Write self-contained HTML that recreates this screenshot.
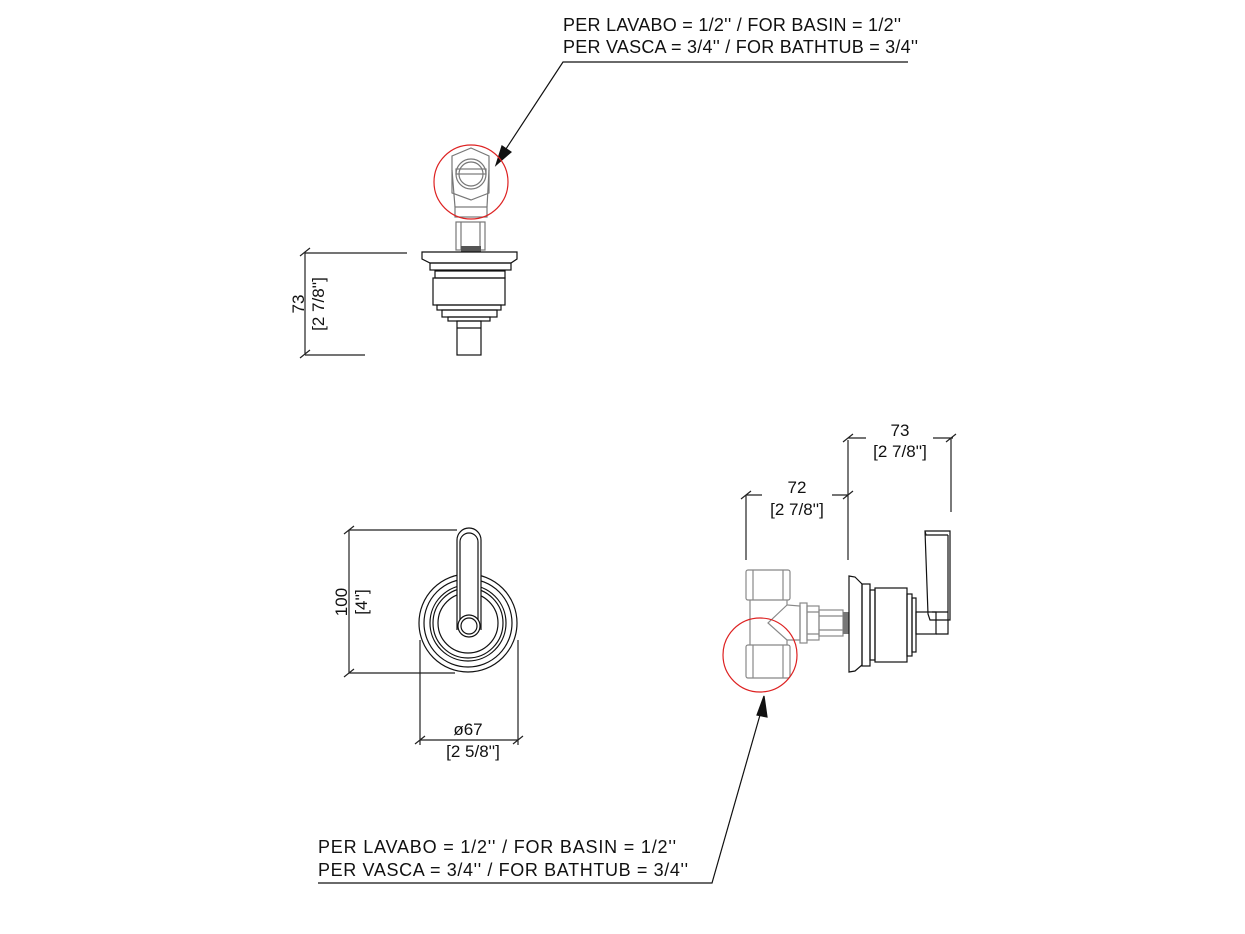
<!DOCTYPE html>
<html><head><meta charset="utf-8"><style>html,body{margin:0;padding:0;background:#fff}svg{display:block}text{font-family:"Liberation Sans",sans-serif;fill:#111}</style></head>
<body>
<svg width="1245" height="934" viewBox="0 0 1245 934" xmlns="http://www.w3.org/2000/svg" fill="none" stroke="#111" stroke-width="1.2">
<!-- top callout -->
<text x="563" y="31" font-size="18" stroke="none" textLength="338">PER LAVABO = 1/2'' / FOR BASIN = 1/2''</text>
<text x="563" y="53" font-size="18" stroke="none" textLength="355">PER VASCA = 3/4'' / FOR BATHTUB = 3/4''</text>
<polyline points="908,62 563,62 500,158"/>
<polygon points="496,165 502,146 511,152" fill="#111"/>

<!-- top view -->
<g stroke="#777">
<polygon points="471,148 489,156 489,193 471,200 452,193 452,156"/>
<path d="M452,170 L455,207 M489,170 L487,207"/>
<circle cx="471" cy="174" r="15"/><circle cx="471" cy="174" r="12"/>
<rect x="456" y="169" width="30" height="5"/>
<rect x="455" y="207" width="32" height="10"/>
<rect x="456" y="222" width="29" height="28"/>
<path d="M461,222 V250 M480,222 V250"/>
</g>
<rect x="461" y="246" width="20" height="6" fill="#555" stroke="none"/>
<circle cx="471" cy="182" r="37" stroke="#d22"/>
<path d="M422,252 H517 V259 L511,263 H430 L422,259 Z"/>
<rect x="430" y="263" width="81" height="7"/>
<rect x="435" y="271" width="70" height="7"/>
<rect x="433" y="278" width="72" height="27"/>
<rect x="437" y="305" width="64" height="5"/>
<rect x="442" y="310" width="55" height="7"/>
<rect x="448" y="317" width="42" height="4"/>
<rect x="457" y="321" width="24" height="34"/>
<path d="M457,328 H481"/>
<!-- 73 dim -->
<path d="M305,253 V355 M305,253 H407 M305,355 H365 M300,358 L310,350 M300,256 L310,248" stroke="#222"/>
<text font-size="17" stroke="none" transform="translate(304,304) rotate(-90)" text-anchor="middle">73</text>
<text font-size="17" stroke="none" transform="translate(324,304) rotate(-90)" text-anchor="middle">[2 7/8'']</text>

<!-- front view -->
<circle cx="468" cy="623" r="49"/>
<circle cx="468" cy="623" r="44"/>
<circle cx="468" cy="623" r="38"/>
<circle cx="468" cy="623" r="35"/>
<circle cx="468" cy="623" r="30"/>
<path d="M457,630 V540 A12,12 0 0 1 481,540 V630" fill="#fff"/>
<path d="M460,628 V542 A9,9 0 0 1 478,542 V628" />
<circle cx="469" cy="626" r="11" fill="#fff"/>
<circle cx="469" cy="626" r="8"/>
<path d="M349,530 V673 M349,530 H457 M349,673 H455 M344,534 L354,526 M344,677 L354,669" stroke="#222"/>
<text font-size="17" stroke="none" transform="translate(347,602) rotate(-90)" text-anchor="middle">100</text>
<text font-size="17" stroke="none" transform="translate(367,602) rotate(-90)" text-anchor="middle">[4'']</text>
<path d="M420,640 V745 M518,640 V745 M420,740 H518 M415,744 L425,736 M513,744 L523,736" stroke="#222"/>
<text x="468" y="735" font-size="17" stroke="none" text-anchor="middle">ø67</text>
<text x="473" y="757" font-size="17" stroke="none" text-anchor="middle">[2 5/8'']</text>

<!-- side view -->
<g stroke="#888">
<rect x="746" y="570" width="44" height="30" rx="2"/>
<path d="M753,570 V600 M783,570 V600"/>
<rect x="746" y="645" width="44" height="33" rx="2"/>
<path d="M753,645 V678 M783,645 V678"/>
<path d="M750,600 V645 M787,600 V605 L800,606 L800,640 L787,640 V645 M787,605 L768,623 L787,640"/>
<rect x="800" y="603" width="7" height="40"/>
<rect x="807" y="606" width="12" height="34"/>
<rect x="819" y="610" width="24" height="26"/>
<path d="M807,612 H819 M807,634 H819 M819,616 H843 M819,630 H843"/>
</g>
<rect x="843" y="612" width="6" height="22" fill="#777" stroke="none"/>
<circle cx="760" cy="655" r="37" stroke="#d22"/>
<path d="M849,576 L855,577 L862,584 V665 L855,671 L849,672 Z"/>
<rect x="862" y="584" width="8" height="82"/>
<rect x="870" y="590" width="5" height="70"/>
<rect x="875" y="588" width="32" height="74"/>
<rect x="907" y="594" width="5" height="62"/>
<rect x="912" y="598" width="4" height="54"/>
<rect x="916" y="612" width="20" height="22"/>
<path d="M925,531 H950 V620 H930 L928,614 Z M925,531 L926,535 H948 M948,535 V620 M932,612 L948,612 M936,620 L948,620 V634 H936"/>
<!-- dims -->
<path d="M746,495 V560 M746,495 H762 M832,495 H848 M848,440 V560 M741,499 L751,491 M843,499 L853,491" stroke="#222"/>
<text x="797" y="493" font-size="17" stroke="none" text-anchor="middle">72</text>
<text x="797" y="515" font-size="17" stroke="none" text-anchor="middle">[2 7/8'']</text>
<path d="M848,438 H866 M933,438 H953 M951,438 V512 M843,442 L853,434 M946,442 L956,434" stroke="#222"/>
<text x="900" y="436" font-size="17" stroke="none" text-anchor="middle">73</text>
<text x="900" y="457" font-size="17" stroke="none" text-anchor="middle">[2 7/8'']</text>

<!-- bottom callout -->
<polygon points="764,696 757,715 767,717" fill="#111"/>
<polyline points="762,708 712,883 318,883"/>
<text x="318" y="853" font-size="18" stroke="none" textLength="358">PER LAVABO = 1/2'' / FOR BASIN = 1/2''</text>
<text x="318" y="876" font-size="18" stroke="none" textLength="370">PER VASCA = 3/4'' / FOR BATHTUB = 3/4''</text>
</svg>
</body></html>
